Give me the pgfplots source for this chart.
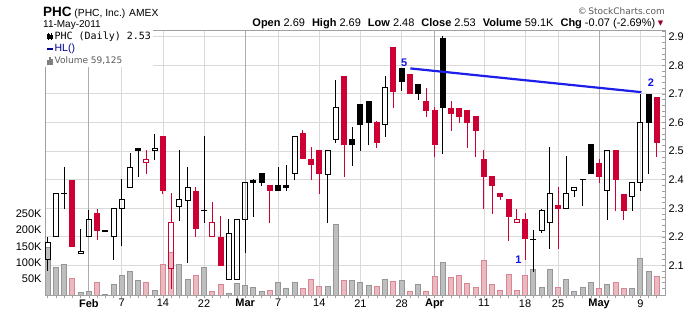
\documentclass[border=0pt]{standalone}
\usepackage{pgfplots}
\pgfplotsset{compat=1.18}
\usepackage{pgfplotstable}
\usepackage{fontspec}
\setmainfont{Liberation Sans}
\newfontfamily\dejavu{DejaVu Sans}
\newfontfamily\dejavumono{DejaVu Sans Mono}
\definecolor{candred}{RGB}{204,0,51}
\definecolor{volgray}{RGB}{190,190,190}
\definecolor{volgrayb}{RGB}{150,150,150}
\definecolor{volpink}{RGB}{235,185,192}
\definecolor{volpinkb}{RGB}{214,135,148}
\definecolor{lightgrid}{RGB}{218,218,218}
\definecolor{monthgrid}{RGB}{172,172,172}
\definecolor{bordergray}{RGB}{160,160,160}
\definecolor{trendblue}{RGB}{30,30,235}
\definecolor{labblue}{RGB}{20,20,230}
\definecolor{hlblue}{RGB}{0,0,150}
\definecolor{tri}{RGB}{150,0,40}
\definecolor{cpgray}{RGB}{90,90,90}

\pgfplotstableread{
x o h l c v t
0 2.12 2.20 2.08 2.18 146000 1
1 2.20 2.35 2.20 2.35 84000 1
2 2.352 2.445 2.297 2.352 96000 2
3 2.40 2.40 2.163 2.163 53000 4
4 2.142 2.229 2.142 2.150 8000 1
5 2.20 2.294 2.20 2.261 11000 1
6 2.284 2.299 2.189 2.221 41000 4
7 2.222 2.222 2.222 2.222 3000 2
8 2.20 2.30 2.119 2.30 34000 1
9 2.30 2.402 2.169 2.331 62000 1
10 2.373 2.492 2.373 2.444 72000 1
11 2.512 2.512 2.41 2.501 47000 2
12 2.459 2.503 2.419 2.471 39000 3
13 2.502 2.561 2.468 2.51 14000 1
14 2.552 2.552 2.349 2.361 95000 4
15 2.089 2.352 2.019 2.25 130000 3
16 2.308 2.503 2.256 2.331 95000 1
17 2.326 2.445 2.11 2.373 50000 1
18 2.362 2.375 2.20 2.228 62000 4
19 2.293 2.552 2.249 2.293 86000 2
20 2.201 2.321 2.201 2.25 13000 3
21 2.201 2.272 2.099 2.099 34000 4
22 2.051 2.261 2.051 2.212 7000 1
23 2.051 2.261 2.051 2.261 37000 1
24 2.261 2.39 2.142 2.39 31000 1
25 2.40 2.404 2.27 2.39 25000 2
26 2.423 2.423 2.378 2.389 11000 2
27 2.381 2.381 2.249 2.361 14000 4
28 2.381 2.444 2.361 2.361 41000 2
29 2.381 2.451 2.361 2.372 20000 2
30 2.422 2.552 2.398 2.552 41000 1
31 2.562 2.573 2.471 2.471 20000 4
32 2.472 2.515 2.398 2.452 48000 4
33 2.503 2.503 2.349 2.419 26000 4
34 2.419 2.503 2.249 2.503 28000 1
35 2.54 2.75 2.527 2.652 218000 1
36 2.762 2.762 2.41 2.522 45000 4
37 2.543 2.585 2.447 2.522 45000 2
38 2.664 2.664 2.501 2.59 41000 2
39 2.674 2.674 2.521 2.598 29000 2
40 2.601 2.606 2.511 2.529 26000 4
41 2.592 2.762 2.55 2.722 50000 1
42 2.863 2.863 2.651 2.707 44000 4
43 2.792 2.792 2.711 2.742 47000 2
44 2.771 2.771 2.701 2.701 13000 4
45 2.734 2.734 2.68 2.701 34000 2
46 2.674 2.722 2.62 2.641 13000 4
47 2.643 2.655 2.48 2.522 59000 4
48 2.894 2.902 2.489 2.651 101000 2
49 2.652 2.674 2.571 2.63 56000 4
50 2.652 2.652 2.599 2.62 62000 4
51 2.643 2.643 2.511 2.599 37000 4
52 2.622 2.622 2.48 2.571 25000 4
53 2.472 2.503 2.298 2.41 108000 4
54 2.412 2.412 2.279 2.378 34000 4
55 2.353 2.353 2.328 2.34 16000 4
56 2.332 2.332 2.186 2.27 65000 4
57 2.25 2.299 2.25 2.261 14000 3
58 2.261 2.284 2.119 2.191 60000 4
59 2.191 2.223 2.078 2.191 80000 2
60 2.221 2.299 2.212 2.292 25000 1
61 2.249 2.515 2.158 2.351 80000 1
62 2.311 2.375 2.158 2.298 23000 4
63 2.298 2.482 2.298 2.351 50000 1
64 2.361 2.373 2.34 2.373 11000 1
65 2.401 2.401 2.308 2.401 23000 2
66 2.524 2.524 2.419 2.419 41000 2
67 2.46 2.471 2.389 2.41 20000 4
68 2.361 2.503 2.258 2.503 34000 1
69 2.503 2.503 2.29 2.40 39000 4
70 2.351 2.351 2.258 2.29 20000 4
71 2.341 2.39 2.29 2.39 20000 1
72 2.39 2.701 2.36 2.60 113000 1
73 2.701 2.701 2.419 2.599 72000 2
74 2.69 2.69 2.48 2.53 59125 4
}\data

\pgfplotsset{
  base/.style={at={(45pt,16.5pt)}, anchor=south west, scale only axis,
    width=620pt, height=265.5pt, xmin=-0.33, xmax=75},
  pricey/.style={ymin=1.9951, ymax=2.9234},
  eb/.style={draw=none, mark=none, forget plot},
}

\begin{document}
\begin{tikzpicture}
\useasboundingbox (0,0) rectangle (700pt,312pt);

% grid and ticks
\begin{axis}[base, pricey,
  axis line style={draw=bordergray},
  xtick={9,14,19,28,33,38,43,53,58,62,72},
  xticklabels={7,14,22,7,14,21,28,11,18,25,9},
  extra x ticks={5,24,47,67},
  extra x tick labels={Feb,Mar,Apr,May},
  extra x tick style={xmajorgrids=true, major grid style={draw=monthgrid, line width=0.8pt},
    xticklabel style={font=\fontsize{11}{13}\selectfont\bfseries}},
  minor xtick={0,...,74},
  xmajorgrids, ymajorgrids,
  major grid style={draw=lightgrid, line width=0.8pt},
  ytick={2.1,2.2,2.3,2.4,2.5,2.6,2.7,2.8,2.9},
  yticklabels={2.1,2.2,2.3,2.4,2.5,2.6,2.7,2.8,2.9},
  minor ytick={2.02,2.04,2.06,2.08,2.12,2.14,2.16,2.18,2.22,2.24,2.26,2.28,2.32,2.34,2.36,2.38,2.42,2.44,2.46,2.48,2.52,2.54,2.56,2.58,2.62,2.64,2.66,2.68,2.72,2.74,2.76,2.78,2.82,2.84,2.86,2.88,2.92},
  xtick pos=left, ytick pos=right, yticklabel pos=right,
  xtick align=outside, ytick align=inside,
  major tick length=3pt, minor tick length=3pt,
  tick style={draw=bordergray, line width=0.6pt},
  xticklabel style={font=\fontsize{11}{13}\selectfont, yshift=2.7pt},
  yticklabel style={font=\fontsize{11}{13}\selectfont},
]
\addplot[draw=none, forget plot] coordinates {(0,2.5)};
\end{axis}

% volume
\begin{axis}[base, ymin=0, ymax=810000,
  axis line style={draw=none}, xtick=\empty,
  ytick={50000,100000,150000,200000,250000},
  yticklabels={50K,100K,150K,200K,250K},
  scaled y ticks=false, ytick pos=left, major tick length=0pt,
  yticklabel style={font=\fontsize{11}{13}\selectfont},
]
\addplot[ybar, bar width=5pt, bar shift=0pt, fill=volgray, draw=volgrayb, line width=1pt,
  restrict expr to domain={\thisrow{t}}{1:2}] table[x=x, y=v] {\data};
\addplot[ybar, bar width=5pt, bar shift=0pt, fill=volpink, draw=volpinkb, line width=1pt,
  restrict expr to domain={\thisrow{t}}{3:4}] table[x=x, y=v] {\data};
\end{axis}

% candles
\begin{axis}[base, pricey,
  axis line style={draw=bordergray}, xtick=\empty, ytick=\empty,
  legend style={at={(0,1)}, anchor=north west, draw=none, fill=white,
    inner xsep=1pt, inner ysep=1pt, row sep=1.5pt,
    font=\fontsize{10}{12}\selectfont,
    nodes={inner sep=0.8pt}},
  legend cell align=left,
]
% wicks
\addplot[eb, restrict expr to domain={\thisrow{t}}{1:2},
  error bars/.cd, y dir=both, y explicit, error mark=none, error bar style={line width=1pt, draw=black}]
  table[x=x, y expr={(\thisrow{h}+max(\thisrow{o},\thisrow{c}))/2}, y error expr={(\thisrow{h}-max(\thisrow{o},\thisrow{c}))/2}] {\data};
\addplot[eb, restrict expr to domain={\thisrow{t}}{1:2},
  error bars/.cd, y dir=both, y explicit, error mark=none, error bar style={line width=1pt, draw=black}]
  table[x=x, y expr={(\thisrow{l}+min(\thisrow{o},\thisrow{c}))/2}, y error expr={(min(\thisrow{o},\thisrow{c})-\thisrow{l})/2}] {\data};
\addplot[eb, restrict expr to domain={\thisrow{t}}{3:4},
  error bars/.cd, y dir=both, y explicit, error mark=none, error bar style={line width=1pt, draw=candred}]
  table[x=x, y expr={(\thisrow{h}+max(\thisrow{o},\thisrow{c}))/2}, y error expr={(\thisrow{h}-max(\thisrow{o},\thisrow{c}))/2}] {\data};
\addplot[eb, restrict expr to domain={\thisrow{t}}{3:4},
  error bars/.cd, y dir=both, y explicit, error mark=none, error bar style={line width=1pt, draw=candred}]
  table[x=x, y expr={(\thisrow{l}+min(\thisrow{o},\thisrow{c}))/2}, y error expr={(min(\thisrow{o},\thisrow{c})-\thisrow{l})/2}] {\data};
% filled bodies
\addplot[eb, restrict expr to domain={\thisrow{t}}{2:2},
  error bars/.cd, y dir=both, y explicit, error mark=none, error bar style={line width=6pt, draw=black}]
  table[x=x, y expr={(\thisrow{o}+\thisrow{c})/2}, y error expr={max(abs(\thisrow{o}-\thisrow{c})/2,0.00175)}] {\data};
\addplot[eb, restrict expr to domain={\thisrow{t}}{4:4},
  error bars/.cd, y dir=both, y explicit, error mark=none, error bar style={line width=6pt, draw=candred}]
  table[x=x, y expr={(\thisrow{o}+\thisrow{c})/2}, y error expr={max(abs(\thisrow{o}-\thisrow{c})/2,0.00175)}] {\data};
% hollow bodies: black
\addplot[eb, restrict expr to domain={\thisrow{t}}{1:1},
  error bars/.cd, y dir=both, y explicit, error mark=none, error bar style={line width=1pt, draw=black}]
  table[x expr={\thisrow{x}-0.304}, y expr={(\thisrow{o}+\thisrow{c})/2}, y error expr={abs(\thisrow{o}-\thisrow{c})/2+0.00175}] {\data};
\addplot[eb, restrict expr to domain={\thisrow{t}}{1:1},
  error bars/.cd, y dir=both, y explicit, error mark=none, error bar style={line width=1pt, draw=black}]
  table[x expr={\thisrow{x}+0.304}, y expr={(\thisrow{o}+\thisrow{c})/2}, y error expr={abs(\thisrow{o}-\thisrow{c})/2+0.00175}] {\data};
\addplot[eb, restrict expr to domain={\thisrow{t}}{1:1},
  error bars/.cd, x dir=both, x explicit, error mark=none, error bar style={line width=1pt, draw=black}]
  table[x=x, y expr={max(\thisrow{o},\thisrow{c})}, x error expr={0.365}] {\data};
\addplot[eb, restrict expr to domain={\thisrow{t}}{1:1},
  error bars/.cd, x dir=both, x explicit, error mark=none, error bar style={line width=1pt, draw=black}]
  table[x=x, y expr={min(\thisrow{o},\thisrow{c})}, x error expr={0.365}] {\data};
% hollow bodies: red
\addplot[eb, restrict expr to domain={\thisrow{t}}{3:3},
  error bars/.cd, y dir=both, y explicit, error mark=none, error bar style={line width=1pt, draw=candred}]
  table[x expr={\thisrow{x}-0.304}, y expr={(\thisrow{o}+\thisrow{c})/2}, y error expr={abs(\thisrow{o}-\thisrow{c})/2+0.00175}] {\data};
\addplot[eb, restrict expr to domain={\thisrow{t}}{3:3},
  error bars/.cd, y dir=both, y explicit, error mark=none, error bar style={line width=1pt, draw=candred}]
  table[x expr={\thisrow{x}+0.304}, y expr={(\thisrow{o}+\thisrow{c})/2}, y error expr={abs(\thisrow{o}-\thisrow{c})/2+0.00175}] {\data};
\addplot[eb, restrict expr to domain={\thisrow{t}}{3:3},
  error bars/.cd, x dir=both, x explicit, error mark=none, error bar style={line width=1pt, draw=candred}]
  table[x=x, y expr={max(\thisrow{o},\thisrow{c})}, x error expr={0.365}] {\data};
\addplot[eb, restrict expr to domain={\thisrow{t}}{3:3},
  error bars/.cd, x dir=both, x explicit, error mark=none, error bar style={line width=1pt, draw=candred}]
  table[x=x, y expr={min(\thisrow{o},\thisrow{c})}, x error expr={0.365}] {\data};
% trend line
\addplot[trendblue, line width=2.2pt, forget plot] coordinates {(44.06,2.789) (72.14,2.706)};
\node[text=labblue, font=\fontsize{11}{12}\selectfont\bfseries] at (axis cs:43.3,2.81) {5};
\node[text=labblue, font=\fontsize{11}{12}\selectfont\bfseries] at (axis cs:73.3,2.739) {2};
\node[text=labblue, font=\fontsize{11}{12}\selectfont\bfseries] at (axis cs:57.2,2.119) {1};
% legend
\addlegendimage{legend image code/.code={
  \draw[black, line width=0.6pt] (0.5pt,-3.5pt)--(0.5pt,3.5pt) (4pt,-3.5pt)--(4pt,3.5pt);
  \fill[black] (-0.7pt,-1.5pt) rectangle (1.7pt,2pt);
  \draw[black, line width=0.6pt] (2.9pt,-2pt) rectangle (5.1pt,1.5pt);}}
\addlegendentry{\dejavumono\fontsize{10}{12}\selectfont PHC (Daily) 2.53}
\addlegendimage{legend image code/.code={
  \draw[hlblue, line width=1.6pt] (-0.5pt,0pt)--(5.5pt,0pt);}}
\addlegendentry{\color{hlblue}\fontsize{10.5}{11}\selectfont HL()}
\addlegendimage{legend image code/.code={
  \fill[gray] (-0.5pt,-3.5pt) rectangle (1pt,0pt);
  \fill[gray] (1.6pt,-3.5pt) rectangle (3.1pt,3pt);
  \fill[gray] (3.7pt,-3.5pt) rectangle (5.2pt,1.5pt);}}
\addlegendentry{\dejavu\color{cpgray}\fontsize{9}{10}\selectfont Volume 59,125}
\end{axis}

% header
\node[anchor=base west, inner sep=0pt] at (43pt,295.3pt)
  {{\fontsize{13.5}{15}\selectfont\bfseries PHC} {\fontsize{10.3}{12}\selectfont (PHC, Inc.) AMEX}};
\node[anchor=base west, inner sep=0pt] at (43pt,284.7pt)
  {\fontsize{10}{12}\selectfont 11-May-2011};
\node[anchor=base east, inner sep=0pt] at (655.5pt,285pt)
  {\fontsize{11}{13}\selectfont\textbf{Open} 2.69\hspace{7pt}\textbf{High} 2.69\hspace{7pt}\textbf{Low} 2.48\hspace{7pt}\textbf{Close} 2.53\hspace{7pt}\textbf{Volume} 59.1K\hspace{7pt}\textbf{Chg} -0.07 (-2.69\%)};
\node[anchor=base, inner sep=0pt, text=tri] at (660.5pt,286pt)
  {\dejavu\fontsize{7}{8}\selectfont ▼};
\node[anchor=east, inner sep=0pt, text=cpgray] at (665pt,301.3pt)
  {\dejavu\fontsize{9}{10}\selectfont ©\,StockCharts.com};
\end{tikzpicture}
\end{document}
